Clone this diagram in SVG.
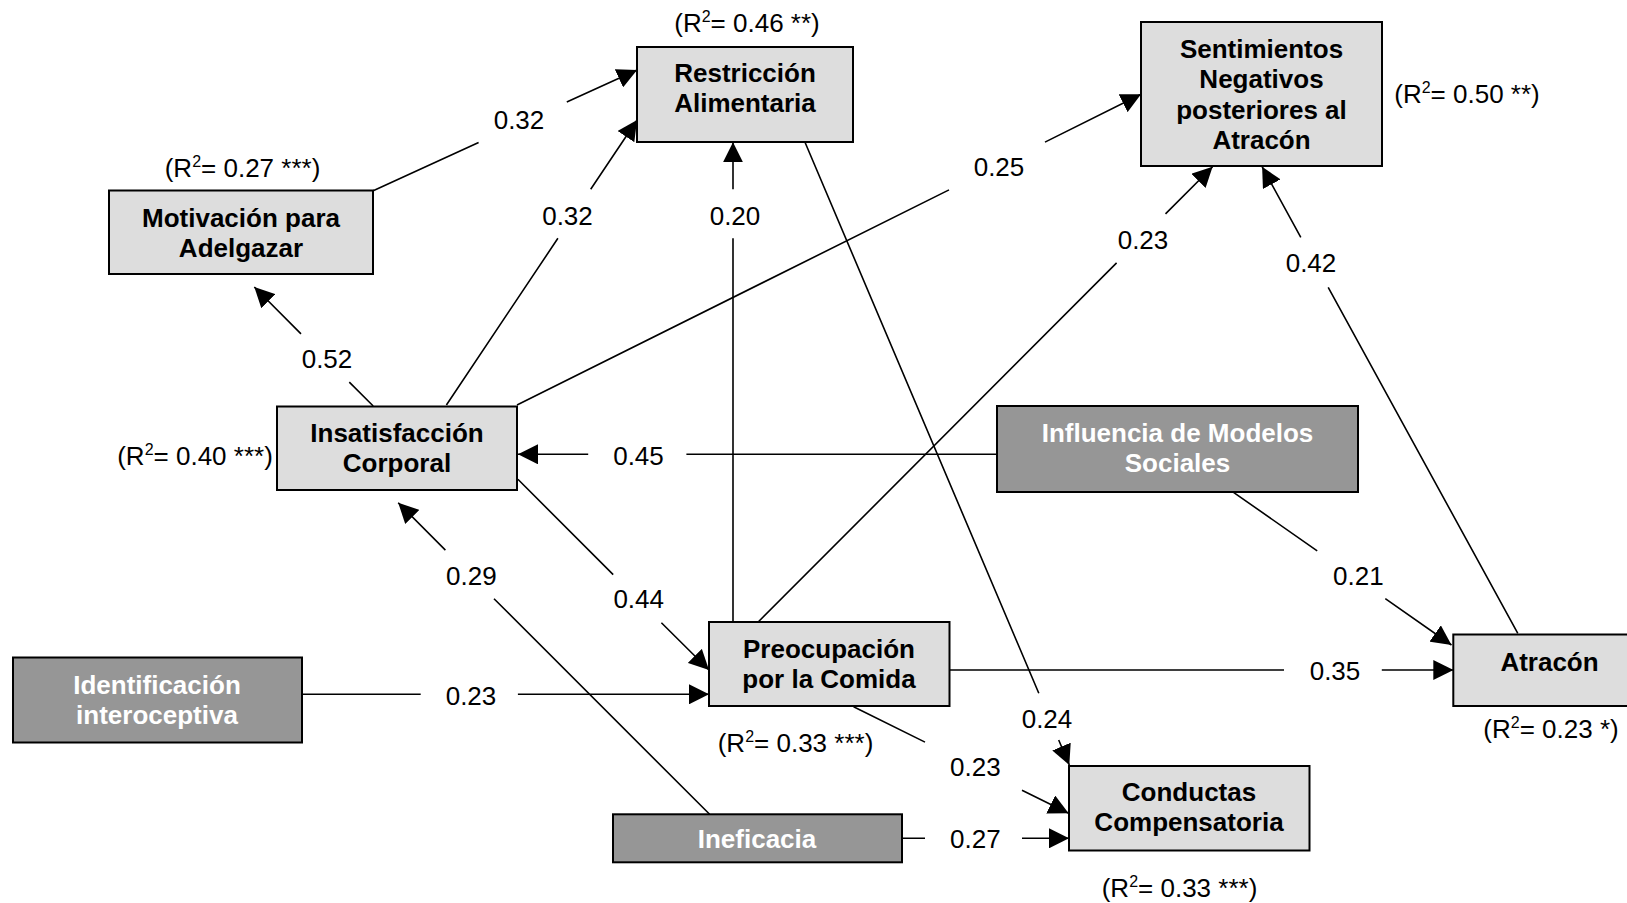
<svg xmlns="http://www.w3.org/2000/svg" width="1627" height="903" viewBox="0 0 1627 903">
<style>
text{font-family:"Liberation Sans",Arial,sans-serif;font-size:26px;fill:#000}
.nt{font-weight:bold;text-anchor:middle}
.wt{fill:#fff}
.lb{text-anchor:middle}
.light{fill:#dddddd;stroke:#000;stroke-width:2}
.dark{fill:#969696;stroke:#000;stroke-width:2}
.c{fill:none;stroke:#000;stroke-width:1.6}
.a{marker-end:url(#ah)}
</style>
<defs>
<marker id="ah" markerUnits="userSpaceOnUse" viewBox="0 0 20 20" refX="20" refY="10" markerWidth="20" markerHeight="20" orient="auto">
<path d="M0,0 L20,10 L0,20 z" fill="#000"/>
</marker>
</defs>
<rect width="1627" height="903" fill="#fff"/>

<g id="connectors">
<path class="c a" d="M373.2,190.7 L478.6,142.5 M566.8,102.1 L637.1,70"/>
<path class="c a" d="M446.4,405 L557.9,238.3 M590.7,189.3 L637.1,120"/>
<path class="c a" d="M733,622 L733,238.3 M733,189.3 L733,142.3"/>
<path class="c a" d="M805,142.3 L1038.8,693.3 M1058.7,740 L1069.3,765"/>
<path class="c a" d="M517,405 L949,189.9 M1045,142.1 L1141,94.3"/>
<path class="c a" d="M757.9,622.3 L1116.6,262.9 M1165.5,213.9 L1212.6,166.7"/>
<path class="c a" d="M1517.8,633.3 L1328.2,287.3 M1300.8,237.3 L1262.1,166.7"/>
<path class="c a" d="M997,454.3 L686.4,454.3 M588.2,454.3 L518,454.3"/>
<path class="c a" d="M373.2,406 L349.3,382.1 M301,333.9 L254.3,287"/>
<path class="c a" d="M517.9,479.3 L613.2,574.6 M661.4,622.8 L709,670"/>
<path class="c a" d="M709.6,814.3 L494,598.7 M445.4,550.1 L398.2,502.7"/>
<path class="c a" d="M301.8,694.3 L420.7,694.3 M517.9,694.3 L709,694.3"/>
<path class="c a" d="M949.6,670 L1284,670 M1381.8,670 L1453.3,670"/>
<path class="c a" d="M1233.5,492.3 L1317.2,550.9 M1385.3,598.6 L1451.5,645"/>
<path class="c a" d="M853.6,706.7 L925,742.1 M1022,790.2 L1068.6,813.3"/>
<path class="c a" d="M901.8,838.3 L925,838.3 M1022,838.3 L1069,838.3"/>
</g>

<g id="edge-labels">
<text class="lb" x="519" y="129">0.32</text>
<text class="lb" x="567.5" y="225">0.32</text>
<text class="lb" x="735" y="225">0.20</text>
<text class="lb" x="999" y="176">0.25</text>
<text class="lb" x="1143" y="249.3">0.23</text>
<text class="lb" x="1311" y="271.7">0.42</text>
<text class="lb" x="327" y="368.3">0.52</text>
<text class="lb" x="638.5" y="465">0.45</text>
<text class="lb" x="638.7" y="608.3">0.44</text>
<text class="lb" x="471.4" y="585">0.29</text>
<text class="lb" x="1358.4" y="585">0.21</text>
<text class="lb" x="471" y="705">0.23</text>
<text class="lb" x="1335" y="680">0.35</text>
<text class="lb" x="1047" y="728.3">0.24</text>
<text class="lb" x="975.4" y="776">0.23</text>
<text class="lb" x="975.4" y="848.3">0.27</text>
</g>

<g id="motivacion">
<rect class="light" x="109" y="190.5" width="264" height="83.5"/>
<text class="nt" x="241" y="226.7">Motivación para</text>
<text class="nt" x="241" y="256.7">Adelgazar</text>
<text class="lb" x="242.5" y="177">(R<tspan dy="-10" font-size="16">2</tspan><tspan dy="10">= 0.27 ***)</tspan></text>
</g>

<g id="restriccion">
<rect class="light" x="637" y="47" width="216" height="95"/>
<text class="nt" x="745" y="81.7">Restricción</text>
<text class="nt" x="745" y="111.7">Alimentaria</text>
<text class="lb" x="747" y="31.5">(R<tspan dy="-10" font-size="16">2</tspan><tspan dy="10">= 0.46 **)</tspan></text>
</g>

<g id="sentimientos">
<rect class="light" x="1141" y="22" width="241" height="144"/>
<text class="nt" x="1261.5" y="57.5">Sentimientos</text>
<text class="nt" x="1261.5" y="88">Negativos</text>
<text class="nt" x="1261.5" y="118.5">posteriores al</text>
<text class="nt" x="1261.5" y="149">Atracón</text>
<text class="lb" x="1467" y="103">(R<tspan dy="-10" font-size="16">2</tspan><tspan dy="10">= 0.50 **)</tspan></text>
</g>

<g id="insatisfaccion">
<rect class="light" x="277" y="406.5" width="240" height="83.5"/>
<text class="nt" x="397" y="441.7">Insatisfacción</text>
<text class="nt" x="397" y="471.7">Corporal</text>
<text class="lb" x="195" y="465">(R<tspan dy="-10" font-size="16">2</tspan><tspan dy="10">= 0.40 ***)</tspan></text>
</g>

<g id="influencia">
<rect class="dark" x="997" y="406" width="361" height="86"/>
<text class="nt wt" x="1177.5" y="441.7">Influencia de Modelos</text>
<text class="nt wt" x="1177.5" y="471.7">Sociales</text>
</g>

<g id="preocupacion">
<rect class="light" x="709" y="622" width="240.5" height="84"/>
<text class="nt" x="829" y="658.3">Preocupación</text>
<text class="nt" x="829" y="688.3">por la Comida</text>
<text class="lb" x="795.5" y="752">(R<tspan dy="-10" font-size="16">2</tspan><tspan dy="10">= 0.33 ***)</tspan></text>
</g>

<g id="identificacion">
<rect class="dark" x="13" y="657.5" width="289" height="85"/>
<text class="nt wt" x="157" y="694.3">Identificación</text>
<text class="nt wt" x="157" y="724.3">interoceptiva</text>
</g>

<g id="ineficacia">
<rect class="dark" x="613" y="814.3" width="289" height="48"/>
<text class="nt wt" x="757" y="848.3">Ineficacia</text>
</g>

<g id="conductas">
<rect class="light" x="1069" y="766" width="240.5" height="84.5"/>
<text class="nt" x="1189" y="801">Conductas</text>
<text class="nt" x="1189" y="831">Compensatoria</text>
<text class="lb" x="1179.5" y="896.5">(R<tspan dy="-10" font-size="16">2</tspan><tspan dy="10">= 0.33 ***)</tspan></text>
</g>

<g id="atracon">
<rect class="light" x="1453.3" y="634.5" width="200" height="71.5"/>
<text class="nt" x="1549.5" y="671">Atracón</text>
<text class="lb" x="1551" y="738">(R<tspan dy="-10" font-size="16">2</tspan><tspan dy="10">= 0.23 *)</tspan></text>
</g>
</svg>
